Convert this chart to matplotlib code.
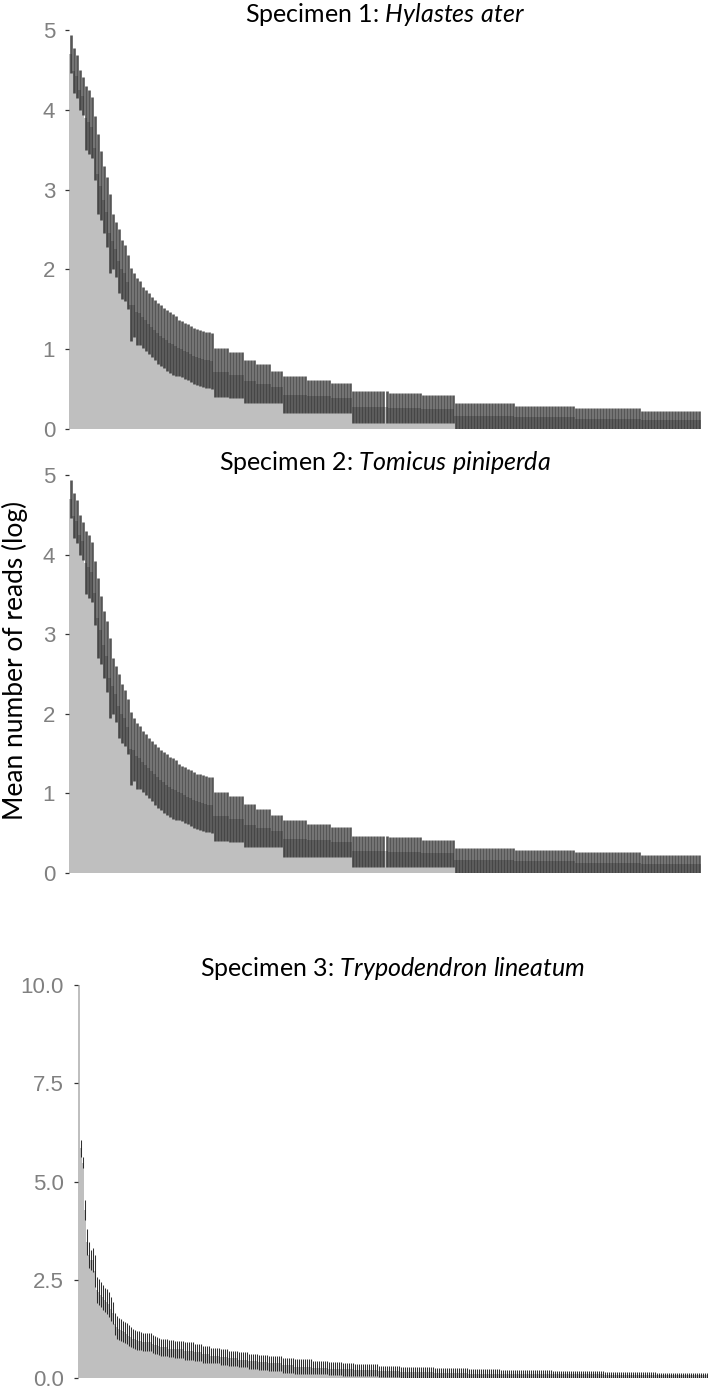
import numpy as np
import matplotlib
matplotlib.use("Agg")
import matplotlib.pyplot as plt

# ---------------- data (run-length: value, half-width of error bar, number of bars) -------------
s1_mean = [4.70, 4.49, 4.42, 4.25, 4.17, 3.90, 3.85, 3.78, 3.52, 3.20, 3.05, 2.87, 2.72, 2.45,
           2.35, 2.25, 2.10, 2.00, 1.95, 1.84, 1.56, 1.55, 1.47, 1.45,
           1.40, 1.36, 1.32, 1.28, 1.24, 1.20, 1.17, 1.14, 1.11, 1.08, 1.06, 1.04,
           1.02, 1.00, 0.98, 0.96, 0.94, 0.92, 0.90, 0.89, 0.88, 0.87, 0.86, 0.85,
           0.71, 0.68, 0.60, 0.57, 0.53, 0.43, 0.41, 0.39, 0.275, 0.265, 0.25,
           0.16, 0.145, 0.13, 0.115]
s1_err = [0.24, 0.28, 0.27, 0.25, 0.24, 0.40, 0.40, 0.38, 0.40, 0.50, 0.43, 0.42, 0.44, 0.50,
          0.35, 0.35, 0.40, 0.37, 0.35, 0.34, 0.46, 0.40, 0.42, 0.40,
          0.38, 0.38, 0.38, 0.38, 0.38, 0.38, 0.38, 0.38, 0.38, 0.38, 0.38, 0.38,
          0.35, 0.35, 0.35, 0.35, 0.35, 0.35, 0.35, 0.35, 0.35, 0.35, 0.35, 0.35,
          0.31, 0.29, 0.27, 0.24, 0.20, 0.23, 0.21, 0.19, 0.195, 0.185, 0.17,
          0.16, 0.145, 0.13, 0.115]
s1_count = [1] * 48 + [5, 5, 4, 5, 4, 8, 8, 7, 12, 11, 11, 20, 20, 22, 20]

# Specimen 2 appears identical to specimen 1 in the figure
s2_mean = list(s1_mean)
s2_err = list(s1_err)
s2_count = list(s1_count)

s3_mean = [10.0, 5.84, 5.48, 4.28, 3.47, 3.13, 3.00, 3.00, 2.72, 2.24, 2.19, 2.12, 2.05, 1.99,
           1.94, 1.88, 1.75, 1.66, 1.37, 1.29, 1.25, 1.22, 1.19, 1.16, 1.13, 1.08, 1.04,
           1.00, 0.98, 0.96, 0.95, 0.94, 0.92, 0.87, 0.85, 0.83, 0.81,
           0.78, 0.75, 0.73, 0.69, 0.65, 0.60, 0.57, 0.53, 0.50, 0.46, 0.43, 0.40, 0.37,
           0.32, 0.29, 0.26, 0.24, 0.22, 0.20, 0.17, 0.15, 0.13, 0.11, 0.10, 0.09, 0.08, 0.065]
s3_err = [0.0, 0.22, 0.14, 0.25, 0.33, 0.33, 0.26, 0.30, 0.40, 0.33, 0.32, 0.32, 0.32, 0.31,
          0.32, 0.32, 0.30, 0.28, 0.28, 0.29, 0.28, 0.27, 0.27, 0.26, 0.26, 0.26, 0.25,
          0.24, 0.24, 0.24, 0.24, 0.24, 0.23, 0.23, 0.23, 0.22, 0.22,
          0.22, 0.22, 0.22, 0.22, 0.21, 0.21, 0.20, 0.20, 0.19, 0.19, 0.19, 0.19, 0.20,
          0.20, 0.19, 0.17, 0.17, 0.16, 0.16, 0.14, 0.14, 0.13, 0.11, 0.10, 0.09, 0.08, 0.065]
s3_count = [1] * 32 + [5] + [1] * 4 + [4, 3, 5, 5, 4, 4, 5, 4, 5, 5, 5, 5, 7, 6, 9, 8, 7, 6,
                                       12, 11, 17, 17, 16, 26, 26, 26, 26]

titles = [("Specimen 1: ", "Hylastes ater"),
          ("Specimen 2: ", "Tomicus piniperda"),
          ("Specimen 3: ", "Trypodendron lineatum")]
y_ticks_12 = [0, 1, 2, 3, 4, 5]
y_ticks_3 = [0.0, 2.5, 5.0, 7.5, 10.0]
y_label = "Mean number of reads (log)"

# ---------------- figure -------------
W, H = 709, 1393
fig = plt.figure(figsize=(W / 100, H / 100), dpi=100)

plt.rcParams['mathtext.fontset'] = 'custom'
plt.rcParams['mathtext.rm'] = 'Lato'
plt.rcParams['mathtext.it'] = 'Lato:italic'

def px_axes(left, top, right, bottom):
    return fig.add_axes([left / W, 1 - bottom / H, (right - left) / W, (bottom - top) / H])

BAR = '#bfbfbf'

def panel(ax, mean, err, count, ymax, ticks, fmt, ecol, elw, ealpha):
    m = np.repeat(np.array(mean, float), count)
    e = np.repeat(np.array(err, float), count)
    x = np.arange(len(m))
    ax.bar(x, m, width=1.0, color=BAR, linewidth=0)
    ax.errorbar(x, m, yerr=e, fmt='none', ecolor=ecol, elinewidth=elw, alpha=ealpha, capsize=0)
    ax.set_xlim(-0.5, len(m) - 0.5)
    ax.set_ylim(0, ymax)
    ax.set_yticks(ticks)
    ax.set_yticklabels([fmt.format(t) for t in ticks], family='Liberation Sans')
    ax.set_xticks([])
    for s in ax.spines.values():
        s.set_visible(False)
    ax.tick_params(axis='y', length=3, width=0.9, color='#333333', labelcolor='#808080',
                   labelsize=16, pad=7)
    ax.patch.set_alpha(0)

ax1 = px_axes(69, 30, 701, 429)
panel(ax1, s1_mean, s1_err, s1_count, 5, y_ticks_12, "{:g}", '#1e1e1e', 1.9, 0.75)
ax2 = px_axes(69, 475, 701, 873)
panel(ax2, s2_mean, s2_err, s2_count, 5, y_ticks_12, "{:g}", '#1e1e1e', 1.9, 0.75)
ax3 = px_axes(78, 985, 708, 1378)
panel(ax3, s3_mean, s3_err, s3_count, 10, y_ticks_3, "{:.1f}", '#1a1a1a', 0.75, 0.9)

def title(ax, y_px, parts):
    bb = ax.get_position()
    xc = (bb.x0 + bb.x1) / 2
    reg, it = parts
    txt = reg + r"$\mathit{" + it.replace(" ", r"\ ") + "}$"
    fig.text(xc, 1 - y_px / H, txt, ha='center', va='center', fontsize=18,
             family='Lato', color='black')

title(ax1, 15, titles[0])
title(ax2, 462, titles[1])
title(ax3, 968, titles[2])

fig.text(15 / W, 1 - 660 / H, y_label, rotation=90, ha='center', va='center',
         fontsize=19, family='Lato', color='black')

fig.savefig("out.png", dpi=100)
